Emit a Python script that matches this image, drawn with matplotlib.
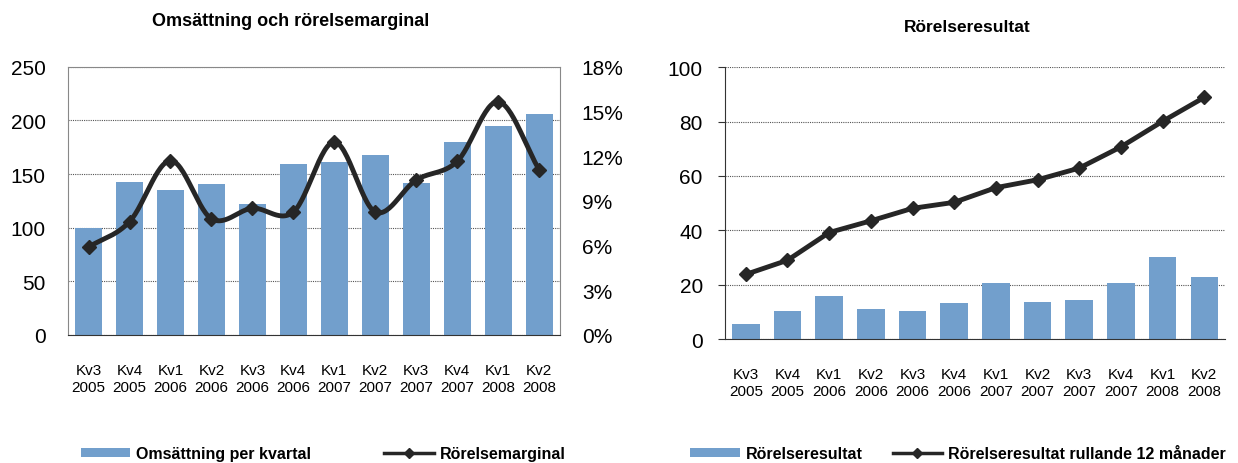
import numpy as np
import matplotlib.pyplot as plt
from matplotlib.ticker import FuncFormatter
from matplotlib.lines import Line2D
from matplotlib.patches import Patch

plt.rcParams['font.family'] = ['Liberation Sans', 'DejaVu Sans']

quarters = ['Kv3\n2005', 'Kv4\n2005', 'Kv1\n2006', 'Kv2\n2006', 'Kv3\n2006', 'Kv4\n2006',
            'Kv1\n2007', 'Kv2\n2007', 'Kv3\n2007', 'Kv4\n2007', 'Kv1\n2008', 'Kv2\n2008']
omsattning = [100, 142.5, 135.5, 140.5, 122, 159.5, 161.5, 167.5, 141.5, 180, 195, 205.5]
marginal = [5.9, 7.6, 11.7, 7.8, 8.5, 8.25, 12.95, 8.25, 10.4, 11.65, 15.65, 11.1]
rorelseresultat = [5.7, 10.5, 15.7, 10.9, 10.2, 13.1, 20.7, 13.8, 14.5, 20.8, 30.3, 22.7]
rullande = [23.8, 29.0, 39.2, 43.5, 48.1, 50.3, 55.7, 58.6, 62.9, 70.7, 80.1, 88.9]

bar_color = '#729fcc'
line_color = '#262626'


def smooth(x, y, n=30):
    # catmull-rom style curve through the points, like Excel's smoothed line
    x = np.asarray(x, float)
    y = np.asarray(y, float)
    px = np.concatenate([[2 * x[0] - x[1]], x, [2 * x[-1] - x[-2]]])
    py = np.concatenate([[2 * y[0] - y[1]], y, [2 * y[-1] - y[-2]]])
    xs, ys = [], []
    t = np.linspace(0, 1, n)
    for i in range(1, len(px) - 2):
        for p, out in ((px, xs), (py, ys)):
            p0, p1, p2, p3 = p[i - 1], p[i], p[i + 1], p[i + 2]
            out.extend(0.5 * (2 * p1 + (-p0 + p2) * t + (2 * p0 - 5 * p1 + 4 * p2 - p3) * t ** 2
                              + (-p0 + 3 * p1 - 3 * p2 + p3) * t ** 3))
    return xs, ys


fig = plt.figure(figsize=(12.38, 4.64), dpi=100)
x = np.arange(len(quarters))

# left chart
ax1 = fig.add_axes([0.055, 0.276, 0.397, 0.578])
ax1.bar(x, omsattning, width=0.66, color=bar_color, zorder=2)
ax1.set_ylim(0, 250)
ax1.set_yticks(range(0, 251, 50))
ax1.set_xlim(-0.5, len(quarters) - 0.5)
ax1.set_xticks(x)
ax1.set_xticklabels(quarters, fontsize=11, linespacing=1.3)
ax1.tick_params(axis='y', length=0, labelsize=15, pad=16)
ax1.tick_params(axis='x', length=0, pad=20)
ax1.grid(axis='y', color='#555555', linestyle=(0, (1, 1)), linewidth=0.8, zorder=0)
for s in ax1.spines.values():
    s.set_color('#888888')
ax1.spines['bottom'].set_color('#333333')
fig.text(291 / 1238, 1 - 22 / 464, 'Omsättning och rörelsemarginal', fontsize=13,
         fontweight='bold', ha='center', va='center')

ax1b = ax1.twinx()
sx, sy = smooth(x, marginal)
ax1b.plot(sx, sy, color=line_color, linewidth=3.5, zorder=3)
ax1b.plot(x, marginal, linestyle='none', marker='D', markersize=7, color=line_color, zorder=4)
ax1b.set_ylim(0, 18)
ax1b.set_yticks(range(0, 19, 3))
ax1b.yaxis.set_major_formatter(FuncFormatter(lambda v, p: f'{int(v)}%'))
ax1b.tick_params(axis='y', length=0, labelsize=15, pad=16)
for s in ax1b.spines.values():
    s.set_visible(False)

# right chart
ax2 = fig.add_axes([0.5856, 0.267, 0.404, 0.586])
ax2.bar(x, rorelseresultat, width=0.66, color=bar_color, zorder=2)
ax2.plot(x, rullande, color=line_color, linewidth=3.5, marker='D', markersize=7, zorder=3)
ax2.set_ylim(0, 100)
ax2.set_yticks(range(0, 101, 20))
ax2.set_xlim(-0.5, len(quarters) - 0.5)
ax2.set_xticks(x)
ax2.set_xticklabels(quarters, fontsize=11, linespacing=1.3)
ax2.tick_params(axis='y', length=5, labelsize=15, pad=11, color='#333333')
ax2.tick_params(axis='x', length=0, pad=20)
ax2.grid(axis='y', color='#555555', linestyle=(0, (1, 1)), linewidth=0.8, zorder=0)
ax2.spines['top'].set_visible(False)
ax2.spines['right'].set_visible(False)
ax2.spines['left'].set_color('#333333')
ax2.spines['bottom'].set_color('#333333')
fig.text(967 / 1238, 1 - 28 / 464, 'Rörelseresultat', fontsize=12.5,
         fontweight='bold', ha='center', va='center')

# legends
h_bar = Patch(facecolor=bar_color)
h_line = Line2D([], [], color=line_color, linewidth=2.5, marker='D', markersize=5)
fig.legend([h_bar, h_line], ['Omsättning per kvartal', 'Rörelsemarginal'],
           loc='center', bbox_to_anchor=(323 / 1238, 0.02), ncol=2, frameon=False,
           prop={'weight': 'bold', 'size': 11.5}, handlelength=3.1, handleheight=0.5,
           columnspacing=4.6, handletextpad=0.35)
fig.legend([h_bar, h_line], ['Rörelseresultat', 'Rörelseresultat rullande 12 månader'],
           loc='center', bbox_to_anchor=(958 / 1238, 0.02), ncol=2, frameon=False,
           prop={'weight': 'bold', 'size': 11.5}, handlelength=3.1, handleheight=0.5,
           columnspacing=1.9, handletextpad=0.35)

fig.savefig('out.png', dpi=100)
